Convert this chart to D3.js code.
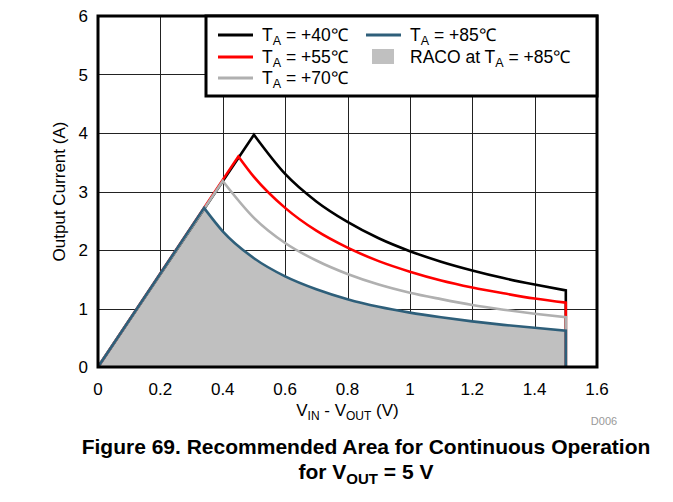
<!DOCTYPE html>
<html>
<head>
<meta charset="utf-8">
<script src="https://cdn.jsdelivr.net/npm/d3@7/dist/d3.min.js"></script>
<style>
  body { margin: 0; background: #fff; }
  text { font-family: Arial, "Liberation Sans", sans-serif; }
</style>
</head>
<body>
<div id="chart"></div>
<script>
// DATA
const xTicks = [0, 0.2, 0.4, 0.6, 0.8, 1, 1.2, 1.4, 1.6];
const yTicks = [0, 1, 2, 3, 4, 5, 6];

const seriesNames = ["+40℃", "+55℃", "+70℃", "+85℃"];
const seriesColors = ["#000000", "#ff0000", "#b0b0b0", "#2e5f7a"];

// peak of each curve (end of the linear rise from the origin)
const peakV = [0.5, 0.45, 0.4, 0.34];
const peakI = [3.97, 3.6, 3.18, 2.72];

// falling part, sampled at these V_IN - V_OUT values
const decayX = [0.4, 0.5, 0.6, 0.7, 0.8, 0.9, 1.0, 1.1, 1.2, 1.3, 1.4, 1.5];
const i40 = [null, null, 3.3, 2.83, 2.48, 2.2, 1.98, 1.8, 1.65, 1.52, 1.41, 1.31];
const i55 = [null, 3.25, 2.72, 2.33, 2.04, 1.81, 1.63, 1.48, 1.36, 1.26, 1.17, 1.1];
const i70 = [null, 2.55, 2.12, 1.82, 1.59, 1.41, 1.27, 1.16, 1.06, 0.98, 0.91, 0.85];
const i85 = [2.32, 1.86, 1.55, 1.33, 1.16, 1.03, 0.93, 0.85, 0.78, 0.72, 0.67, 0.62];
const decayI = [i40, i55, i70, i85];

// LAYOUT
const width = 673, height = 502;
const plot = { left: 98, right: 597, top: 16, bottom: 367 };
const fs = 17;

const svg = d3.select("#chart").append("svg")
  .attr("width", width).attr("height", height);

const xScale = d3.scaleLinear().domain([0, 1.6]).range([plot.left, plot.right]);
const yScale = d3.scaleLinear().domain([0, 6]).range([plot.bottom, plot.top]);

// grid
svg.append("g").selectAll("line.vg")
  .data(xTicks.slice(1, -1)).join("line")
  .attr("x1", d => Math.round(xScale(d)) + 0.5).attr("x2", d => Math.round(xScale(d)) + 0.5)
  .attr("y1", plot.top).attr("y2", plot.bottom)
  .attr("stroke", "#222").attr("stroke-width", 1);
svg.append("g").selectAll("line.hg")
  .data(yTicks.slice(1, -1)).join("line")
  .attr("y1", d => Math.round(yScale(d)) + 0.5).attr("y2", d => Math.round(yScale(d)) + 0.5)
  .attr("x1", plot.left).attr("x2", plot.right)
  .attr("stroke", "#222").attr("stroke-width", 1);

// build points for series k
function points(k) {
  const pts = [[0, 0], [peakV[k], peakI[k]]];
  decayX.forEach((x, j) => {
    if (x > peakV[k] && decayI[k][j] != null) pts.push([x, decayI[k][j]]);
  });
  return pts;
}
const lin = d3.line().x(d => xScale(d[0])).y(d => yScale(d[1]));
const mono = d3.line().x(d => xScale(d[0])).y(d => yScale(d[1])).curve(d3.curveMonotoneX);

function curvePath(k) {
  const pts = points(k);
  const rise = lin(pts.slice(0, 2));
  const fall = mono(pts.slice(1)).replace(/^M/, "L");
  const last = pts[pts.length - 1];
  return rise + fall + "L" + xScale(last[0]) + "," + yScale(0);
}

// RACO area under the +85 curve
svg.append("path")
  .attr("d", curvePath(3) + "Z")
  .attr("fill", "#c0c0c0");

// curves
svg.append("g").selectAll("path")
  .data([0, 1, 2, 3]).join("path")
  .attr("d", k => curvePath(k))
  .attr("fill", "none")
  .attr("stroke", k => seriesColors[k])
  .attr("stroke-width", 2.6)
  .attr("stroke-linejoin", "miter");

// frame
svg.append("rect")
  .attr("x", plot.left).attr("y", plot.top)
  .attr("width", plot.right - plot.left).attr("height", plot.bottom - plot.top)
  .attr("fill", "none").attr("stroke", "#000").attr("stroke-width", 3);

// tick labels
svg.append("g").selectAll("text")
  .data(xTicks).join("text")
  .attr("x", d => xScale(d)).attr("y", 395)
  .attr("text-anchor", "middle").attr("font-size", fs)
  .text(d => d);
svg.append("g").selectAll("text")
  .data(yTicks).join("text")
  .attr("x", 88).attr("y", d => yScale(d) + 6)
  .attr("text-anchor", "end").attr("font-size", fs)
  .text(d => d);

// axis titles
svg.append("text")
  .attr("transform", `translate(65,${(plot.top + plot.bottom) / 2}) rotate(-90)`)
  .attr("text-anchor", "middle").attr("font-size", fs)
  .text("Output Current (A)");

const xt = svg.append("text")
  .attr("x", (plot.left + plot.right) / 2).attr("y", 416)
  .attr("text-anchor", "middle").attr("font-size", fs);
xt.append("tspan").text("V");
xt.append("tspan").attr("font-size", 12).attr("dy", 4).text("IN");
xt.append("tspan").attr("dy", -4).text(" - V");
xt.append("tspan").attr("font-size", 12).attr("dy", 4).text("OUT");
xt.append("tspan").attr("dy", -4).text(" (V)");

svg.append("text")
  .attr("x", 604).attr("y", 425)
  .attr("text-anchor", "middle").attr("font-size", 11).attr("fill", "#999")
  .text("D006");

// legend
const lg = svg.append("g");
lg.append("rect")
  .attr("x", 206).attr("y", 16).attr("width", plot.right - 206).attr("height", 80)
  .attr("fill", "#fff").attr("stroke", "#000").attr("stroke-width", 3);

const legendPos = [[218, 35], [218, 57], [218, 78], [366, 35]];
seriesNames.forEach((name, k) => {
  const [lx, ly] = legendPos[k];
  lg.append("line")
    .attr("x1", lx).attr("x2", lx + 35).attr("y1", ly).attr("y2", ly)
    .attr("stroke", seriesColors[k]).attr("stroke-width", 3);
  const t = lg.append("text").attr("x", lx + 44).attr("y", ly + 6).attr("font-size", 17.5);
  t.append("tspan").text("T");
  t.append("tspan").attr("font-size", 12.5).attr("dy", 4).text("A");
  t.append("tspan").attr("dy", -4).text(" = " + name);
});
lg.append("rect")
  .attr("x", 372).attr("y", 49).attr("width", 22).attr("height", 15)
  .attr("fill", "#c0c0c0");
const rt = lg.append("text").attr("x", 410).attr("y", 63).attr("font-size", 17.5);
rt.append("tspan").text("RACO at T");
rt.append("tspan").attr("font-size", 12.5).attr("dy", 4).text("A");
rt.append("tspan").attr("dy", -4).text(" = +85℃");

// caption
svg.append("text")
  .attr("x", 366).attr("y", 454)
  .attr("text-anchor", "middle").attr("font-size", 21).attr("font-weight", "bold")
  .text("Figure 69. Recommended Area for Continuous Operation");
const cap = svg.append("text")
  .attr("x", 366).attr("y", 479)
  .attr("text-anchor", "middle").attr("font-size", 21).attr("font-weight", "bold");
cap.append("tspan").text("for V");
cap.append("tspan").attr("font-size", 15).attr("dy", 5).text("OUT");
cap.append("tspan").attr("dy", -5).text(" = 5 V");
</script>
</body>
</html>
